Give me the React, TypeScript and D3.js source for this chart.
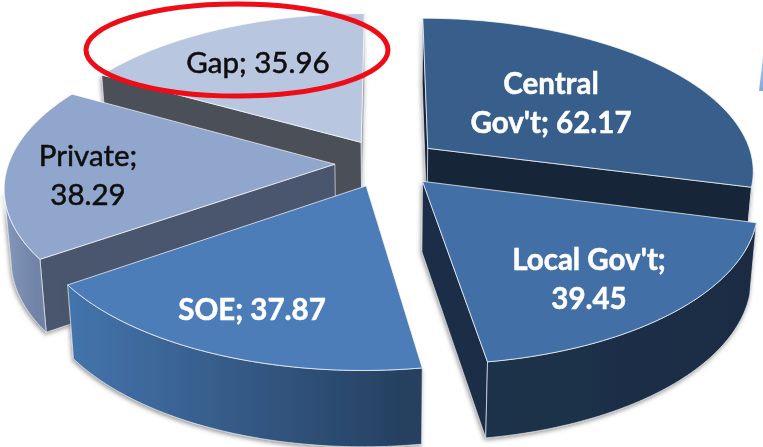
import React from "react";
import * as D3 from "d3";

const categories = ["Central Gov't", "Local Gov't", "SOE", "Private", "Gap"];
const values = [62.17, 39.45, 37.87, 38.29, 35.96];
const labelLines = [["Central", "Gov't; 62.17"], ["Local Gov't;", "39.45"], ["SOE; 37.87"], ["Private;", "38.29"], ["Gap; 35.96"]];

const topColors = ["#385f8c", "#4270a6", "#4d7db9", "#91a6cc", "#b9c6df"];
const radialColors = ["#172538", "#1b2e46", "#2a4a72", "#4a566d", "#4c5059"];
const arcFrom = ["#172538", "#1e324b", "#4474ad", "#8598bc", "#8d9ab0"];
const arcTo = ["#172538", "#1a2c43", "#253f5e", "#6f83a6", "#8d9ab0"];
const textColors = ["#ffffff", "#ffffff", "#ffffff", "#111111", "#111111"];
const labelX = [551, 589, 252, 88, 258];
const labelY = [82, 258, 308, 154, 61];

const W = 763, H = 447;
const cx = 387, cy = 163, rx = 326, ry = 152, k = 0.139, explode = 0.16, depth = 70;

type P = [number, number];
const project = (X: number, Y: number): P => {
  const f = 1 / (1 + k * Y);
  return [cx + rx * X * f, cy - ry * Y * f];
};
const lowered = (X: number, Y: number): P => {
  const f = 1 / (1 + k * Y);
  const [x, y] = project(X, Y);
  return [cx + (x - cx) * 0.982, y + depth * Math.sqrt(f)];
};

const slices = D3.pie<number>().sort(null).value((d) => d)(values);
const line = D3.line<P>().x((d) => d[0]).y((d) => d[1]);

function geometry(s: D3.PieArcDatum<number>) {
  const mid = (s.startAngle + s.endAngle) / 2;
  const ox = explode * Math.sin(mid);
  const oy = explode * Math.cos(mid);
  const n = 60;
  const angle = D3.scaleLinear().domain([0, n]).range([s.startAngle, s.endAngle]);
  const rim = D3.range(n + 1).map((i) => [ox + Math.sin(angle(i)), oy + Math.cos(angle(i))] as P);
  const apex: P = [ox, oy];
  return { apex, rim };
}

const visibleEdge = (a: P, b: P) => b[0] - a[0] < 0;

export default function App() {
  return (
    <svg
      width={W}
      height={H}
      viewBox={`0 0 ${W} ${H}`}
      style={{ position: "absolute", left: 0, top: 0, background: "#fff" }}
    >
      <defs>
        <filter id="soft" x="-10%" y="-10%" width="120%" height="120%">
          <feDropShadow dx={-1} dy={2} stdDeviation={2} floodColor="#555" floodOpacity={0.6} />
        </filter>
        <filter id="blur" x="-5%" y="-5%" width="110%" height="110%">
          <feGaussianBlur stdDeviation={0.45} />
        </filter>
        <linearGradient id="deco" x1="0" y1="0" x2="0" y2="1">
          <stop offset="0" stopColor="#a9c8ee" />
          <stop offset="1" stopColor="#7fa9dc" />
        </linearGradient>
        {slices.map((s, i) => {
          const g = geometry(s);
          const xs = g.rim.filter((p, j) => j > 0 && visibleEdge(project(...g.rim[j - 1]), project(...p))).map((p) => project(...p)[0]);
          const lo = xs.length ? D3.min(xs)! : 0;
          const hi = xs.length ? D3.max(xs)! : 1;
          return (
            <linearGradient key={i} id={`arc${i}`} gradientUnits="userSpaceOnUse" x1={lo} x2={hi} y1={0} y2={0}>
              <stop offset="0" stopColor={arcFrom[i]} />
              <stop offset="1" stopColor={arcTo[i]} />
            </linearGradient>
          );
        })}
      </defs>
      <g filter="url(#blur)">
        {[4, 0, 3, 1, 2].map((i) => {
          const g = geometry(slices[i]);
          const first = g.rim[0];
          const last = g.rim[g.rim.length - 1];
          const faces: [P, P][] = [[g.apex, first], [last, g.apex]];
          const visibleFaces = faces.filter(([a, b]) => {
            const A = project(...a), B = project(...b);
            return B[0] - A[0] < 0 || (i === 0 && a === g.apex);
          });
          const arcPts = g.rim.filter((p, j) => {
            const prev = g.rim[Math.max(j - 1, 0)];
            const next = g.rim[Math.min(j + 1, g.rim.length - 1)];
            return visibleEdge(project(...prev), project(...next));
          });
          const topPath = [project(...g.apex), ...g.rim.map((p) => project(...p))];
          return (
            <g key={categories[i]}>
              <g filter="url(#soft)">
                {visibleFaces.map(([a, b], j) => (
                  <path
                    key={j}
                    d={line([project(...a), project(...b), lowered(...b), lowered(...a)])! + "Z"}
                    fill={i === 4 && a !== g.apex ? "#a4a6aa" : radialColors[i]}
                    stroke="#dfe3ea"
                    strokeWidth={0.7}
                  />
                ))}
                {arcPts.length > 1 && (
                  <path
                    d={line([...arcPts.map((p) => project(...p)), ...arcPts.slice().reverse().map((p) => lowered(...p))])! + "Z"}
                    fill={`url(#arc${i})`}
                    stroke="#e6e9ee"
                    strokeWidth={0.7}
                  />
                )}
              </g>
              <path d={line(topPath)! + "Z"} fill={topColors[i]} stroke="#ffffff" strokeOpacity={0.7} strokeWidth={1} />
            </g>
          );
        })}
        {labelLines.map((lines, i) =>
          lines.map((t, j) => (
            <text
              key={t}
              x={labelX[i]}
              y={labelY[i] + j * 39}
              textAnchor="middle"
              dominantBaseline="central"
              fontFamily="Lato, 'Open Sans', sans-serif"
              fontSize={29.5}
              fontWeight={i < 3 ? 700 : 400}
              fill={textColors[i]}
              stroke={textColors[i]}
              strokeWidth={i < 3 ? 0.5 : 0.55}
            >
              {t}
            </text>
          ))
        )}
        <polygon points="763,57 759,91 763,91" fill="url(#deco)" />
        <ellipse cx={237} cy={50} rx={151} ry={46} fill="none" stroke="#ee0b18" strokeWidth={5} />
      </g>
    </svg>
  );
}
